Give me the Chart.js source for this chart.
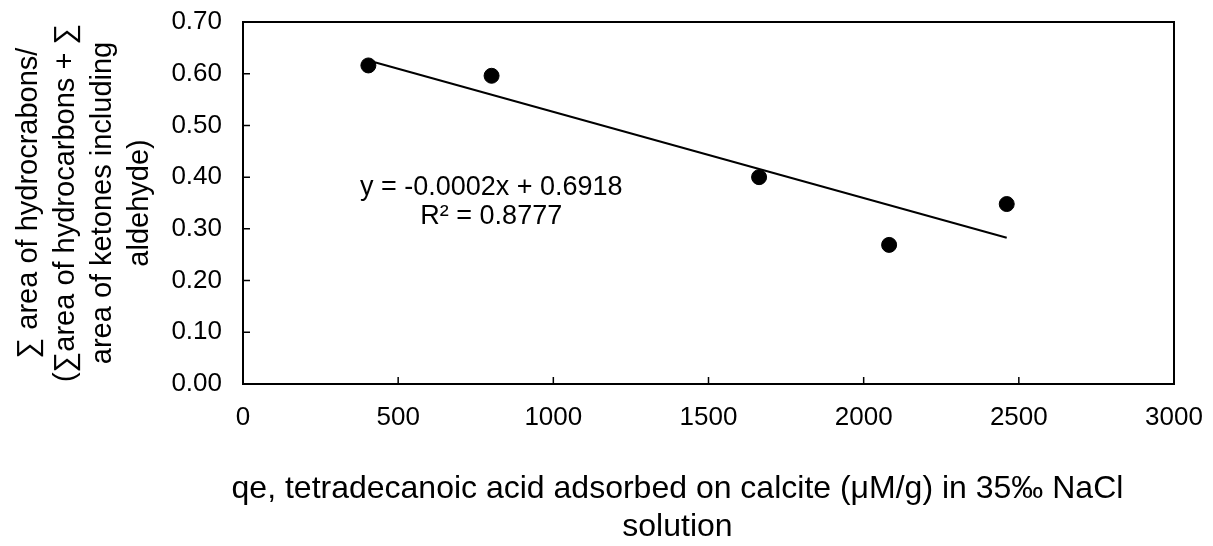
<!DOCTYPE html>
<html>
<head>
<meta charset="utf-8">
<script src="https://cdn.jsdelivr.net/npm/chart.js@4/dist/chart.umd.min.js"></script>
<style>
html,body{margin:0;padding:0;background:#fff;}
#wrap{width:1213px;height:546px;position:relative;}
</style>
</head>
<body>
<div id="wrap"><canvas id="c" width="1213" height="546"></canvas></div>
<script>
const qeValues = [404, 801, 1663, 2082, 2461];
const ratioValues = [0.616, 0.596, 0.400, 0.269, 0.348];
const xTicks = [0, 500, 1000, 1500, 2000, 2500, 3000];
const yTicks = [0, 0.1, 0.2, 0.3, 0.4, 0.5, 0.6, 0.7];
const equationLines = ['y = -0.0002x + 0.6918', 'R\u00B2 = 0.8777'];
const equationAnchor = [800, 0.38];
const yTitleLines = ['\u2211 area of hydrocrabons/', '(\u2211area of hydrocarbons + \u2211', 'area of ketones including', 'aldehyde)'];
const xTitleLines = ['qe, tetradecanoic acid adsorbed on calcite (\u03BCM/g) in 35\u2030 NaCl', 'solution'];

// least-squares trendline
const n = qeValues.length;
const mx = qeValues.reduce((a,b)=>a+b,0)/n;
const my = ratioValues.reduce((a,b)=>a+b,0)/n;
let sxy=0, sxx=0;
for(let i=0;i<n;i++){sxy+=(qeValues[i]-mx)*(ratioValues[i]-my);sxx+=(qeValues[i]-mx)**2;}
const slope = sxy/sxx, intercept = my - slope*mx;
const xmin = Math.min(...qeValues), xmax = Math.max(...qeValues);
const trend = [{x:xmin,y:intercept+slope*xmin},{x:xmax,y:intercept+slope*xmax}];

const FONT = "'Liberation Sans', Arial, sans-serif";

const boxPlugin = {
  id:'boxPlugin',
  afterDatasetsDraw(chart){
    const {ctx, chartArea:a, scales} = chart;
    ctx.save();
    ctx.strokeStyle='#000';
    ctx.lineWidth=2;
    ctx.strokeRect(a.left, a.top, a.right-a.left, a.bottom-a.top);
    ctx.lineWidth=1.5;
    ctx.beginPath();
    xTicks.forEach(v=>{const px=scales.x.getPixelForValue(v);ctx.moveTo(px,a.bottom);ctx.lineTo(px,a.bottom-7);});
    yTicks.forEach(v=>{const py=scales.y.getPixelForValue(v);ctx.moveTo(a.left,py);ctx.lineTo(a.left+7,py);});
    ctx.stroke();
    ctx.fillStyle='#000';
    // equation
    ctx.font="27px "+FONT;
    ctx.textAlign='center';
    ctx.textBaseline='middle';
    const ex=scales.x.getPixelForValue(equationAnchor[0]);
    const ey=scales.y.getPixelForValue(equationAnchor[1]);
    equationLines.forEach((t,i)=>ctx.fillText(t,ex,ey+i*29));
    // x axis title
    ctx.font="32px "+FONT;
    ctx.textBaseline='alphabetic';
    const tx = scales.x.getPixelForValue(1400);
    xTitleLines.forEach((t,i)=>ctx.fillText(t,tx,498+i*38));
    ctx.restore();
  }
};

new Chart(document.getElementById('c'),{
  type:'scatter',
  data:{datasets:[
    {data:qeValues.map((x,i)=>({x,y:ratioValues[i]})),backgroundColor:'#000',borderColor:'#000',pointRadius:7.5,pointHoverRadius:7.5,showLine:false},
    {type:'line',data:trend,borderColor:'#000',borderWidth:2,pointRadius:0,fill:false,showLine:true}
  ]},
  options:{
    responsive:false,animation:false,
    layout:{padding:{top:22,right:39,left:0,bottom:0}},
    plugins:{legend:{display:false},tooltip:{enabled:false}},
    scales:{
      x:{type:'linear',min:0,max:3000,
        afterBuildTicks(s){s.ticks=xTicks.map(v=>({value:v}));},
        afterFit(s){s.height=162;s.paddingLeft=0;s.paddingRight=0;},
        grid:{display:false,drawTicks:false},border:{display:false},
        ticks:{color:'#000',font:{family:FONT,size:26},padding:18,maxRotation:0,callback:v=>String(v)},
        title:{display:false}
      },
      y:{type:'linear',min:0,max:0.7,
        afterBuildTicks(s){s.ticks=yTicks.map(v=>({value:v}));},
        afterFit(s){s.width=243;s.paddingTop=0;s.paddingBottom=0;},
        grid:{display:false,drawTicks:false},border:{display:false},
        ticks:{color:'#000',font:{family:FONT,size:26},padding:21,callback:v=>Number(v).toFixed(2)},
        title:{display:true,text:yTitleLines,color:'#000',font:{family:FONT,size:29,lineHeight:1.27},padding:{top:11,bottom:0}}
      }
    }
  },
  plugins:[boxPlugin]
});
</script>
</body>
</html>
